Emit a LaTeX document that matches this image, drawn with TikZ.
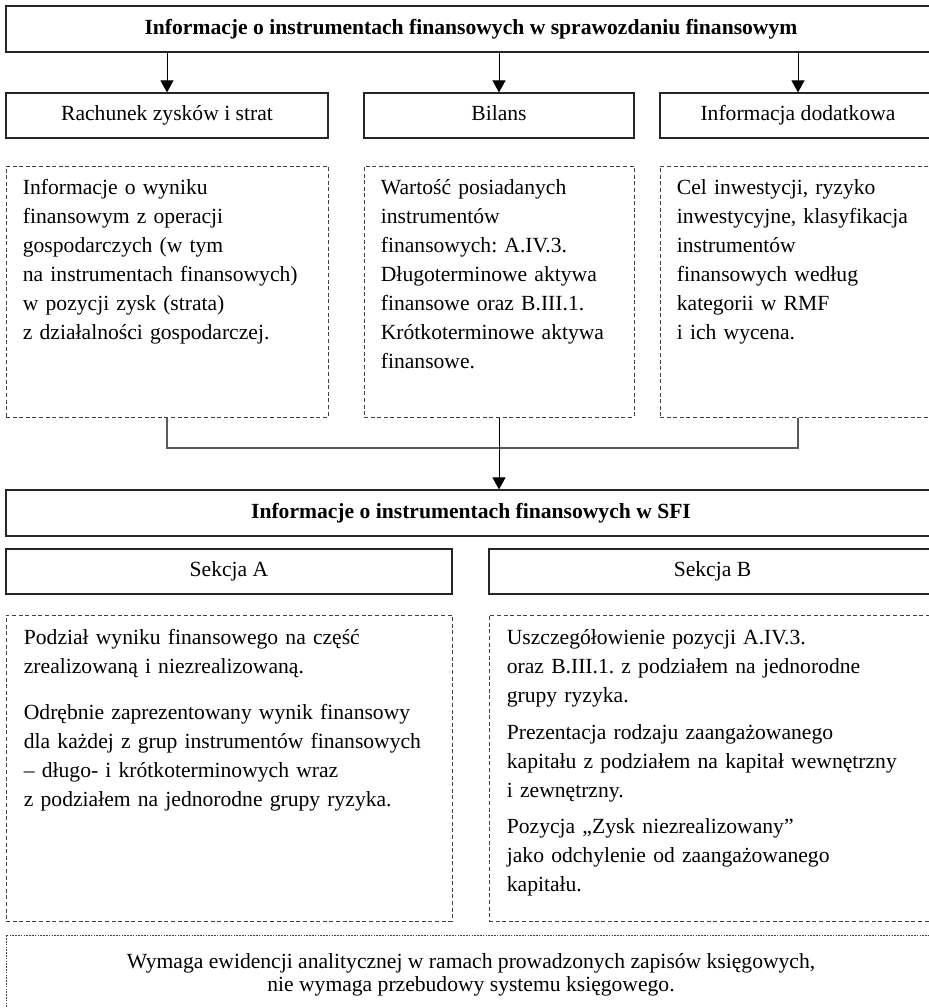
\documentclass[tikz,border=0pt]{standalone}
\usepackage{fontspec}
\setmainfont{Liberation Serif}
\frenchspacing
\usetikzlibrary{arrows.meta,positioning,calc}

\tikzset{
  solidbox/.style={draw=black!85, line width=0.6pt, minimum height=22.5pt, inner sep=0pt, text height=7.4pt, text depth=2.2pt, font=\fontsize{10.8}{13}\selectfont},
  dashbox/.style={draw=black!75, line width=0.5pt, dash pattern=on 2pt off 1.3pt, inner sep=0pt},
  dotbox/.style={draw=black!75, line width=0.5pt, dash pattern=on 0.8pt off 0.6pt, inner sep=0pt, align=center, font=\fontsize{10.8}{11.5}\selectfont},
  boxtext/.style={anchor=base west, align=left, inner sep=0pt, text width=#1, font=\fontsize{10.8}{14.5}\selectfont},
  arr/.style={-{Triangle[length=6pt,width=6.5pt]}, line width=0.5pt},
  bracket/.style={line width=0.9pt, draw=black!65}
}

\begin{document}
\begin{tikzpicture}[x=0.5pt, y=-0.5pt]
  \useasboundingbox (0,0) rectangle (929,1008);
  \clip (0,0) rectangle (929,1008);

  % sprawozdanie finansowe
  \node (sprawozdanie) [solidbox, minimum width=465pt, minimum height=23pt, font=\bfseries\fontsize{10.8}{13}\selectfont] at (471,29) {Informacje o instrumentach finansowych w sprawozdaniu finansowym};
  \node (rachunek) [solidbox, minimum width=161pt] at (167,115.5) {Rachunek zysków i strat};
  \node (bilans) [solidbox, minimum width=135pt] at (499,115.5) {Bilans};
  \node (dodatkowa) [solidbox, minimum width=138pt] at (798,115.5) {Informacja dodatkowa};
  \draw[arr] (rachunek.north |- sprawozdanie.south) -- (rachunek.north);
  \draw[arr] (bilans.north |- sprawozdanie.south) -- (bilans.north);
  \draw[arr] (dodatkowa.north |- sprawozdanie.south) -- (dodatkowa.north);

  \node (wynik) [dashbox, minimum width=161pt, minimum height=125.5pt] at (167,291.5) {};
  \node (wartosc) [dashbox, minimum width=135pt, minimum height=125.5pt] at (499,291.5) {};
  \node (cel) [dashbox, minimum width=138pt, minimum height=125.5pt] at (798,291.5) {};
  \node (wynik txt) [boxtext=150pt] at ([xshift=8.5pt,yshift=-14.5pt]wynik.north west)
    {Informacje o wyniku\\finansowym z operacji\\gospodarczych (w tym\\na instrumentach finansowych)\\w pozycji zysk (strata)\\z działalności gospodarczej.};
  \node (wartosc txt) [boxtext=125pt] at ([xshift=8.5pt,yshift=-14.5pt]wartosc.north west)
    {Wartość posiadanych\\instrumentów\\finansowych: A.IV.3.\\Długoterminowe aktywa\\finansowe oraz B.III.1.\\Krótkoterminowe aktywa\\finansowe.};
  \node (cel txt) [boxtext=128pt] at ([xshift=8.5pt,yshift=-14.5pt]cel.north west)
    {Cel inwestycji, ryzyko\\inwestycyjne, klasyfikacja\\instrumentów\\finansowych według\\kategorii w RMF\\i ich wycena.};

  % SFI
  \node (sfi) [solidbox, minimum width=465pt, minimum height=23pt, font=\bfseries\fontsize{10.8}{13}\selectfont] at (471,513) {Informacje o instrumentach finansowych w SFI};
  \coordinate (zbieg) at (499,448);
  \draw[bracket] (wynik.south) |- (zbieg) -| (cel.south);
  \draw[arr] (wartosc.south) -- (wartosc.south |- sfi.north);

  \node (sekcjaA) [solidbox, minimum width=223pt] at (229,571.5) {Sekcja A};
  \node (sekcjaB) [solidbox, minimum width=223.5pt] at (712.5,571.5) {Sekcja B};

  \node (podzial) [dashbox, minimum width=223pt, minimum height=153pt] at (229,768) {};
  \node (szczegoly) [dashbox, minimum width=223.5pt, minimum height=153pt] at (712.5,768) {};
  \node (podzial txt) [boxtext=210pt] at ([xshift=9pt,yshift=-15pt]podzial.north west)
    {Podział wyniku finansowego na część\\zrealizowaną i niezrealizowaną.\\[8.5pt]Odrębnie zaprezentowany wynik finansowy\\dla każdej z grup instrumentów finansowych\\– długo- i krótkoterminowych wraz\\z podziałem na jednorodne grupy ryzyka.};
  \node (szczegoly txt) [boxtext=210pt] at ([xshift=9pt,yshift=-15pt]szczegoly.north west)
    {Uszczegółowienie pozycji A.IV.3.\\oraz B.III.1. z podziałem na jednorodne\\grupy ryzyka.\\[4pt]Prezentacja rodzaju zaangażowanego\\kapitału z podziałem na kapitał wewnętrzny\\i zewnętrzny.\\[3.5pt]Pozycja „Zysk niezrealizowany”\\jako odchylenie od zaangażowanego\\kapitału.};

  % ewidencja
  \node (ewidencja) [dotbox, minimum width=465pt, minimum height=40pt] at (471,975)
    {Wymaga ewidencji analitycznej w ramach prowadzonych zapisów księgowych,\\nie wymaga przebudowy systemu księgowego.};
\end{tikzpicture}
\end{document}
